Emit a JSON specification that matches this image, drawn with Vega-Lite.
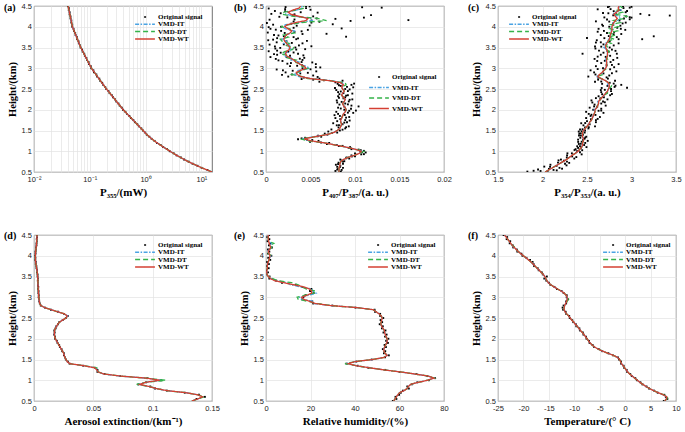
{
"$schema":"https://vega.github.io/schema/vega-lite/v6.json",
"background":"white",
"padding":{"left":3,"top":1,"right":3,"bottom":2},
"columns":3,
"spacing":{"row":63,"column":54},
"bounds":"flush",
"resolve":{"scale":{"color":"independent","strokeDash":"independent"}},
"config":{
"view":{"stroke":"#4d4d4d","strokeWidth":0.8},
"axis":{"domain":false,"ticks":false,"grid":true,"gridColor":"#e2e2e2","gridWidth":0.7,"labelFont":"Liberation Sans","labelFontSize":7.5,"labelColor":"#1a1a1a","labelPadding":3,"labelFlush":false,"labelOverlap":false,"titleFont":"Liberation Serif","titleFontWeight":"bold","titleFontSize":11,"titleColor":"#000","titlePadding":4},
"axisY":{"labelPadding":2.5,"titlePadding":3.5,"titleFontSize":10.5},
"legend":{"orient":"none","symbolType":"M-3.3,0H3.3","symbolSize":36,"symbolStrokeWidth":1.5,"labelFont":"Liberation Serif","labelFontWeight":"bold","labelFontSize":7,"labelColor":"#000","labelOffset":9,"rowPadding":0.3,"padding":0,"labelLimit":300}
},
"datasets":{
"a":[
{"h":0.5,"o":15.3,"i":15.5,"d":15.5,"w":15.5},{"h":0.55,"o":12.8,"i":12.6,"d":12.6,"w":12.6},{"h":0.6,"o":10.1,"i":10.2,"d":10.2,"w":10.2},{"h":0.65,"o":8.52,"i":8.41,"d":8.41,"w":8.41},{"h":0.7,"o":6.93,"i":7.0,"d":7.0,"w":7.0},{"h":0.75,"o":5.9,"i":5.83,"d":5.83,"w":5.83},{"h":0.8,"o":4.89,"i":4.95,"d":4.95,"w":4.95},{"h":0.85,"o":4.3,"i":4.24,"d":4.24,"w":4.24},{"h":0.9,"o":3.6,"i":3.64,"d":3.64,"w":3.64},{"h":0.95,"o":3.19,"i":3.15,"d":3.15,"w":3.15},
{"h":1.0,"o":2.71,"i":2.74,"d":2.74,"w":2.74},{"h":1.05,"o":2.42,"i":2.39,"d":2.39,"w":2.39},{"h":1.1,"o":2.07,"i":2.09,"d":2.09,"w":2.09},{"h":1.15,"o":1.86,"i":1.84,"d":1.84,"w":1.84},{"h":1.2,"o":1.6,"i":1.62,"d":1.62,"w":1.62},{"h":1.25,"o":1.45,"i":1.43,"d":1.43,"w":1.43},{"h":1.3,"o":1.28,"i":1.29,"d":1.29,"w":1.29},{"h":1.35,"o":1.17,"i":1.16,"d":1.16,"w":1.16},{"h":1.4,"o":1.05,"i":1.06,"d":1.06,"w":1.06},{"h":1.45,"o":0.985,"i":0.973,"d":0.973,"w":0.973},
{"h":1.5,"o":0.895,"i":0.902,"d":0.902,"w":0.902},{"h":1.55,"o":0.838,"i":0.83,"d":0.83,"w":0.83},{"h":1.6,"o":0.758,"i":0.764,"d":0.764,"w":0.764},{"h":1.65,"o":0.711,"i":0.705,"d":0.705,"w":0.705},{"h":1.7,"o":0.644,"i":0.649,"d":0.649,"w":0.649},{"h":1.75,"o":0.604,"i":0.598,"d":0.598,"w":0.598},{"h":1.8,"o":0.547,"i":0.551,"d":0.551,"w":0.551},{"h":1.85,"o":0.512,"i":0.507,"d":0.507,"w":0.507},{"h":1.9,"o":0.464,"i":0.468,"d":0.468,"w":0.468},{"h":1.95,"o":0.435,"i":0.431,"d":0.431,"w":0.431},
{"h":2.0,"o":0.394,"i":0.397,"d":0.397,"w":0.397},{"h":2.05,"o":0.375,"i":0.371,"d":0.371,"w":0.371},{"h":2.1,"o":0.343,"i":0.346,"d":0.346,"w":0.346},{"h":2.15,"o":0.326,"i":0.323,"d":0.323,"w":0.323},{"h":2.2,"o":0.298,"i":0.301,"d":0.301,"w":0.301},{"h":2.25,"o":0.284,"i":0.281,"d":0.281,"w":0.281},{"h":2.3,"o":0.26,"i":0.262,"d":0.262,"w":0.262},{"h":2.35,"o":0.248,"i":0.245,"d":0.245,"w":0.245},{"h":2.4,"o":0.226,"i":0.229,"d":0.229,"w":0.229},{"h":2.45,"o":0.216,"i":0.213,"d":0.213,"w":0.213},
{"h":2.5,"o":0.197,"i":0.199,"d":0.199,"w":0.199},{"h":2.55,"o":0.189,"i":0.187,"d":0.187,"w":0.187},{"h":2.6,"o":0.174,"i":0.176,"d":0.176,"w":0.176},{"h":2.65,"o":0.167,"i":0.165,"d":0.165,"w":0.165},{"h":2.7,"o":0.153,"i":0.155,"d":0.155,"w":0.155},{"h":2.75,"o":0.148,"i":0.146,"d":0.146,"w":0.146},{"h":2.8,"o":0.135,"i":0.137,"d":0.137,"w":0.137},{"h":2.85,"o":0.131,"i":0.129,"d":0.129,"w":0.129},{"h":2.9,"o":0.119,"i":0.121,"d":0.121,"w":0.121},{"h":2.95,"o":0.116,"i":0.114,"d":0.114,"w":0.114},
{"h":3.0,"o":0.106,"i":0.107,"d":0.107,"w":0.107},{"h":3.05,"o":0.104,"i":0.1025,"d":0.1025,"w":0.1025},{"h":3.1,"o":0.097,"i":0.0982,"d":0.0982,"w":0.0982},{"h":3.15,"o":0.095,"i":0.0938,"d":0.0938,"w":0.0938},{"h":3.2,"o":0.0888,"i":0.0897,"d":0.0897,"w":0.0897},{"h":3.25,"o":0.0868,"i":0.0859,"d":0.0859,"w":0.0859},{"h":3.3,"o":0.0815,"i":0.0822,"d":0.0822,"w":0.0822},{"h":3.35,"o":0.0795,"i":0.0787,"d":0.0787,"w":0.0787},{"h":3.4,"o":0.0745,"i":0.0752,"d":0.0752,"w":0.0752},{"h":3.45,"o":0.0728,"i":0.072,"d":0.072,"w":0.072},
{"h":3.5,"o":0.0683,"i":0.0689,"d":0.0689,"w":0.0689},{"h":3.55,"o":0.0671,"i":0.0665,"d":0.0665,"w":0.0665},{"h":3.6,"o":0.0637,"i":0.0643,"d":0.0643,"w":0.0643},{"h":3.65,"o":0.0627,"i":0.0621,"d":0.0621,"w":0.0621},{"h":3.7,"o":0.0595,"i":0.06,"d":0.06,"w":0.06},{"h":3.75,"o":0.0586,"i":0.058,"d":0.058,"w":0.058},{"h":3.8,"o":0.0556,"i":0.0561,"d":0.0561,"w":0.0561},{"h":3.85,"o":0.0547,"i":0.0542,"d":0.0542,"w":0.0542},{"h":3.9,"o":0.0519,"i":0.0524,"d":0.0524,"w":0.0524},{"h":3.95,"o":0.0511,"i":0.0506,"d":0.0506,"w":0.0506},
{"h":4.0,"o":0.0485,"i":0.0489,"d":0.0489,"w":0.0489},{"h":4.05,"o":0.0484,"i":0.048,"d":0.048,"w":0.048},{"h":4.1,"o":0.0467,"i":0.0471,"d":0.0471,"w":0.0471},{"h":4.15,"o":0.0467,"i":0.0463,"d":0.0463,"w":0.0463},{"h":4.2,"o":0.0451,"i":0.0455,"d":0.0455,"w":0.0455},{"h":4.25,"o":0.0451,"i":0.0447,"d":0.0447,"w":0.0447},{"h":4.3,"o":0.0435,"i":0.0439,"d":0.0439,"w":0.0439},{"h":4.35,"o":0.0435,"i":0.0431,"d":0.0431,"w":0.0431},{"h":4.4,"o":0.042,"i":0.0424,"d":0.0424,"w":0.0424},{"h":4.45,"o":0.042,"i":0.0416,"d":0.0416,"w":0.0416},{"h":4.5,"o":0.0405,"i":0.0408,"d":0.0408,"w":0.0408}
],
"b":[
{"h":0.5,"i":0.0082,"d":0.0082,"w":0.0082},{"h":0.55,"i":0.0082,"d":0.0082,"w":0.0082},{"h":0.6,"i":0.0082,"d":0.0082,"w":0.0082},{"h":0.65,"i":0.0083,"d":0.0083,"w":0.0083},{"h":0.7,"i":0.0083,"d":0.0083,"w":0.0083},{"h":0.75,"i":0.0084,"d":0.0084,"w":0.0084},{"h":0.8,"i":0.0087,"d":0.0087,"w":0.0087},{"h":0.85,"i":0.0092,"d":0.0092,"w":0.0092},{"h":0.9,"i":0.0099,"d":0.0099,"w":0.0099},{"h":0.95,"i":0.0105,"d":0.0105,"w":0.0105},
{"h":1.0,"i":0.0108,"d":0.011,"w":0.0107},{"h":1.05,"i":0.01,"d":0.01,"w":0.01},{"h":1.1,"i":0.009,"d":0.009,"w":0.009},{"h":1.15,"i":0.0078,"d":0.0078,"w":0.0078},{"h":1.2,"i":0.0066,"d":0.0066,"w":0.0066},{"h":1.25,"i":0.0049,"d":0.0047,"w":0.0051},{"h":1.3,"i":0.0041,"d":0.0039,"w":0.0043},{"h":1.35,"i":0.0054,"d":0.0056,"w":0.0055},{"h":1.4,"i":0.0068,"d":0.0068,"w":0.0068},{"h":1.45,"i":0.0076,"d":0.0076,"w":0.0076},
{"h":1.5,"i":0.008,"d":0.008,"w":0.008},{"h":1.55,"i":0.0083,"d":0.0083,"w":0.0083},{"h":1.6,"i":0.0084,"d":0.0084,"w":0.0084},{"h":1.65,"i":0.0085,"d":0.0085,"w":0.0085},{"h":1.7,"i":0.0084,"d":0.0084,"w":0.0084},{"h":1.75,"i":0.0084,"d":0.0084,"w":0.0084},{"h":1.8,"i":0.0085,"d":0.0085,"w":0.0085},{"h":1.85,"i":0.0086,"d":0.0086,"w":0.0086},{"h":1.9,"i":0.0087,"d":0.0087,"w":0.0087},{"h":1.95,"i":0.0089,"d":0.0089,"w":0.0089},
{"h":2.0,"i":0.009,"d":0.009,"w":0.009},{"h":2.05,"i":0.0089,"d":0.0089,"w":0.0089},{"h":2.1,"i":0.0087,"d":0.0087,"w":0.0087},{"h":2.15,"i":0.0086,"d":0.0086,"w":0.0086},{"h":2.2,"i":0.0088,"d":0.0088,"w":0.0088},{"h":2.25,"i":0.0089,"d":0.0089,"w":0.0089},{"h":2.3,"i":0.0087,"d":0.0087,"w":0.0087},{"h":2.35,"i":0.0085,"d":0.0085,"w":0.0085},{"h":2.4,"i":0.0086,"d":0.0086,"w":0.0086},{"h":2.45,"i":0.0088,"d":0.0088,"w":0.0088},
{"h":2.5,"i":0.0086,"d":0.0086,"w":0.0086},{"h":2.55,"i":0.0085,"d":0.0085,"w":0.0085},{"h":2.6,"i":0.0087,"d":0.009,"w":0.0087},{"h":2.65,"i":0.0086,"d":0.0089,"w":0.0084},{"h":2.7,"i":0.0074,"d":0.0071,"w":0.0072},{"h":2.75,"i":0.0052,"d":0.0047,"w":0.005},{"h":2.8,"i":0.0037,"d":0.0041,"w":0.0039},{"h":2.85,"i":0.0031,"d":0.0029,"w":0.0035},{"h":2.9,"i":0.0038,"d":0.0036,"w":0.0034},{"h":2.95,"i":0.0036,"d":0.0041,"w":0.0039},
{"h":3.0,"i":0.0049,"d":0.0047,"w":0.0045},{"h":3.05,"i":0.0045,"d":0.004,"w":0.0043},{"h":3.1,"i":0.0036,"d":0.0041,"w":0.0038},{"h":3.15,"i":0.0037,"d":0.0031,"w":0.0034},{"h":3.2,"i":0.0028,"d":0.0034,"w":0.0031},{"h":3.25,"i":0.003,"d":0.0024,"w":0.0027},{"h":3.3,"i":0.002,"d":0.0026,"w":0.0023},{"h":3.35,"i":0.0019,"d":0.0017,"w":0.0022},{"h":3.4,"i":0.0026,"d":0.0021,"w":0.0023},{"h":3.45,"i":0.0029,"d":0.003,"w":0.0026},
{"h":3.5,"i":0.0025,"d":0.0031,"w":0.0027},{"h":3.55,"i":0.0028,"d":0.0022,"w":0.0025},{"h":3.6,"i":0.002,"d":0.0026,"w":0.0023},{"h":3.65,"i":0.0023,"d":0.0018,"w":0.0021},{"h":3.7,"i":0.0017,"d":0.0016,"w":0.002},{"h":3.75,"i":0.0023,"d":0.0025,"w":0.0021},{"h":3.8,"i":0.0021,"d":0.002,"w":0.0023},{"h":3.85,"i":0.003,"d":0.0032,"w":0.0027},{"h":3.9,"i":0.0032,"d":0.0028,"w":0.0029},{"h":3.95,"i":0.0022,"d":0.0027,"w":0.0025},
{"h":4.0,"i":0.0018,"d":0.0017,"w":0.0021},{"h":4.05,"i":0.0022,"d":0.0026,"w":0.0024},{"h":4.1,"i":0.0037,"d":0.004,"w":0.0033},{"h":4.15,"i":0.0052,"d":0.0068,"w":0.0045},{"h":4.2,"i":0.0051,"d":0.0058,"w":0.0047},{"h":4.25,"i":0.0034,"d":0.0031,"w":0.0037},{"h":4.3,"i":0.0022,"d":0.0018,"w":0.0028},{"h":4.35,"i":0.0023,"d":0.002,"w":0.0025},{"h":4.4,"i":0.0034,"d":0.0033,"w":0.003},{"h":4.45,"i":0.0041,"d":0.0044,"w":0.0037},{"h":4.5,"i":0.004,"d":0.0042,"w":0.0039}
],
"bp":[
{"h":0.5,"v":0.00835},{"h":0.525,"v":0.0078},{"h":0.55,"v":0.0085},{"h":0.575,"v":0.0081},{"h":0.6,"v":0.00865},{"h":0.625,"v":0.008},{"h":0.65,"v":0.00835},{"h":0.675,"v":0.00785},{"h":0.7,"v":0.00865},{"h":0.725,"v":0.00815},{"h":0.75,"v":0.00865},{"h":0.775,"v":0.0085},{"h":0.8,"v":0.00835},{"h":0.825,"v":0.00935},{"h":0.85,"v":0.00905},{"h":0.875,"v":0.00965},{"h":0.9,"v":0.0096},{"h":0.925,"v":0.0107},{"h":0.95,"v":0.01},{"h":0.975,"v":0.0108},
{"h":1.0,"v":0.0106},{"h":1.025,"v":0.01065},{"h":1.05,"v":0.0096},{"h":1.075,"v":0.0095},{"h":1.1,"v":0.00945},{"h":1.125,"v":0.0082},{"h":1.15,"v":0.00795},{"h":1.175,"v":0.00685},{"h":1.2,"v":0.0071},{"h":1.225,"v":0.00495},{"h":1.25,"v":0.0059},{"h":1.275,"v":0.0046},{"h":1.3,"v":0.0045},{"h":1.325,"v":0.0044},{"h":1.35,"v":0.0062},{"h":1.375,"v":0.00585},{"h":1.4,"v":0.0069},{"h":1.425,"v":0.0066},{"h":1.45,"v":0.008},{"h":1.475,"v":0.007},
{"h":1.5,"v":0.0083},{"h":1.525,"v":0.00735},{"h":1.55,"v":0.0089},{"h":1.575,"v":0.00815},{"h":1.6,"v":0.0093},{"h":1.625,"v":0.00795},{"h":1.65,"v":0.0086},{"h":1.675,"v":0.00755},{"h":1.7,"v":0.0091},{"h":1.725,"v":0.008},{"h":1.75,"v":0.0089},{"h":1.775,"v":0.00835},{"h":1.8,"v":0.0078},{"h":1.825,"v":0.00935},{"h":1.85,"v":0.0083},{"h":1.875,"v":0.00885},{"h":1.9,"v":0.0081},{"h":1.925,"v":0.0098},{"h":1.95,"v":0.0079},{"h":1.975,"v":0.00935},
{"h":2.0,"v":0.0088},{"h":2.025,"v":0.00955},{"h":2.05,"v":0.0081},{"h":2.075,"v":0.0088},{"h":2.1,"v":0.0096},{"h":2.125,"v":0.00825},{"h":2.15,"v":0.0089},{"h":2.175,"v":0.008},{"h":2.2,"v":0.0093},{"h":2.225,"v":0.00795},{"h":2.25,"v":0.0097},{"h":2.275,"v":0.0087},{"h":2.3,"v":0.0089},{"h":2.325,"v":0.0081},{"h":2.35,"v":0.0092},{"h":2.375,"v":0.00825},{"h":2.4,"v":0.0087},{"h":2.425,"v":0.0081},{"h":2.45,"v":0.0092},{"h":2.475,"v":0.0079},
{"h":2.5,"v":0.0089},{"h":2.525,"v":0.00775},{"h":2.55,"v":0.0091},{"h":2.575,"v":0.0084},{"h":2.6,"v":0.0096},{"h":2.625,"v":0.00805},{"h":2.65,"v":0.0085},{"h":2.675,"v":0.006},{"h":2.7,"v":0.0086},{"h":2.725,"v":0.0053},{"h":2.75,"v":0.006},{"h":2.775,"v":0.00425},{"h":2.8,"v":0.0025},{"h":2.825,"v":0.0053},{"h":2.85,"v":0.0029},{"h":2.875,"v":0.00385},{"h":2.9,"v":0.0022},{"h":2.925,"v":0.00565},{"h":2.95,"v":0.0019},{"h":2.975,"v":0.005},
{"h":3.0,"v":0.0041},{"h":3.025,"v":0.0056},{"h":3.05,"v":0.0027},{"h":3.075,"v":0.00405},{"h":3.1,"v":0.0056},{"h":3.125,"v":0.0028},{"h":3.15,"v":0.004},{"h":3.175,"v":0.00185},{"h":3.2,"v":0.0041},{"h":3.225,"v":0.0011},{"h":3.25,"v":0.0043},{"h":3.275,"v":0.0023},{"h":3.3,"v":0.0027},{"h":3.325,"v":0.00125},{"h":3.35,"v":0.0036},{"h":3.375,"v":0.00165},{"h":3.4,"v":0.0025},{"h":3.425,"v":0.00125},{"h":3.45,"v":0.0034},{"h":3.475,"v":0.00105},
{"h":3.5,"v":0.0033},{"h":3.525,"v":0.001},{"h":3.55,"v":0.0037},{"h":3.575,"v":0.002},{"h":3.6,"v":0.0041},{"h":3.625,"v":0.0012},{"h":3.65,"v":0.0023},{"h":3.675,"v":0.00025},{"h":3.7,"v":0.0034},{"h":3.725,"v":0.00125},{"h":3.75,"v":0.0031},{"h":3.775,"v":0.002},{"h":3.8,"v":0.0009},{"h":3.825,"v":0.0041},{"h":3.85,"v":0.0021},{"h":3.875,"v":0.0032},{"h":3.9,"v":0.0017},{"h":3.925,"v":0.0047},{"h":3.95,"v":0.0005},{"h":3.975,"v":0.0031},
{"h":4.0,"v":0.0017},{"h":4.025,"v":0.00345},{"h":4.05,"v":0.0008},{"h":4.075,"v":0.00285},{"h":4.1,"v":0.0051},{"h":4.125,"v":0.0031},{"h":4.15,"v":0.0051},{"h":4.175,"v":0.0032},{"h":4.2,"v":0.0057},{"h":4.225,"v":0.0024},{"h":4.25,"v":0.0053},{"h":4.275,"v":0.00305},{"h":4.3,"v":0.0032},{"h":4.325,"v":0.00165},{"h":4.35,"v":0.0039},{"h":4.375,"v":0.00215},{"h":4.4,"v":0.0032},{"h":4.425,"v":0.00215},{"h":4.45,"v":0.0045},{"h":4.475,"v":0.0022},{"h":4.5,"v":0.0045},
{"h":2.71,"v":0.0065},{"h":2.74,"v":0.004},{"h":2.79,"v":0.0058},{"h":2.84,"v":0.0018},{"h":2.89,"v":0.0047},{"h":2.94,"v":0.003},{"h":2.97,"v":0.0012},{"h":3.02,"v":0.0061},{"h":3.06,"v":0.0035},{"h":3.11,"v":0.0024},{"h":3.14,"v":0.0052},{"h":3.19,"v":0.0014},{"h":3.23,"v":0.0038},{"h":3.27,"v":0.0005},{"h":3.31,"v":0.0042},{"h":3.34,"v":0.0009},{"h":3.38,"v":0.0031},{"h":3.41,"v":0.0003},{"h":3.46,"v":0.0044},{"h":3.49,"v":0.0016},
{"h":3.53,"v":0.0051},{"h":3.57,"v":0.0004},{"h":3.61,"v":0.0029},{"h":3.66,"v":0.0046},{"h":3.69,"v":0.0008},{"h":3.72,"v":0.0036},{"h":3.76,"v":0.009},{"h":3.79,"v":0.0014},{"h":3.83,"v":0.0068},{"h":3.86,"v":0.0002},{"h":3.89,"v":0.004},{"h":3.93,"v":0.0011},{"h":3.96,"v":0.0085},{"h":3.99,"v":0.0003},{"h":4.03,"v":0.0049},{"h":4.06,"v":0.0075},{"h":4.09,"v":0.0001},{"h":4.12,"v":0.006},{"h":4.14,"v":0.0095},{"h":4.16,"v":0.016},
{"h":4.17,"v":0.0004},{"h":4.19,"v":0.0078},{"h":4.22,"v":0.011},{"h":4.24,"v":0.0015},{"h":4.28,"v":0.0118},{"h":4.31,"v":0.0006},{"h":4.34,"v":0.0058},{"h":4.38,"v":0.001},{"h":4.41,"v":0.005},{"h":4.44,"v":0.0003},{"h":4.47,"v":0.0108},{"h":4.49,"v":0.0049},{"h":4.46,"v":0.013},
{"h":1.21,"v":0.0062},{"h":1.27,"v":0.0052},{"h":1.29,"v":0.0036},{"h":1.31,"v":0.004},{"h":1.36,"v":0.0058},{"h":1.44,"v":0.0074},{"h":1.52,"v":0.0086},{"h":1.58,"v":0.009},{"h":1.63,"v":0.0082},{"h":1.69,"v":0.0088},{"h":1.74,"v":0.0094},{"h":1.81,"v":0.009},{"h":1.87,"v":0.0077},{"h":1.93,"v":0.0092},{"h":1.98,"v":0.0101},{"h":2.03,"v":0.0084},{"h":2.08,"v":0.0104},{"h":2.13,"v":0.0092},{"h":2.19,"v":0.0085},{"h":2.24,"v":0.0094},
{"h":2.29,"v":0.0082},{"h":2.34,"v":0.009},{"h":2.39,"v":0.0097},{"h":2.44,"v":0.0084},{"h":2.49,"v":0.0094},{"h":2.54,"v":0.0098},{"h":2.59,"v":0.0082},{"h":2.63,"v":0.0099},{"h":2.66,"v":0.0078},
{"h":0.51,"v":0.0084},{"h":0.56,"v":0.008},{"h":0.62,"v":0.0083},{"h":0.69,"v":0.0081},{"h":0.76,"v":0.0088},{"h":0.83,"v":0.009},{"h":0.88,"v":0.01},{"h":0.93,"v":0.011},{"h":0.97,"v":0.0112},{"h":1.01,"v":0.011},{"h":1.04,"v":0.0104},{"h":1.08,"v":0.0093},{"h":1.13,"v":0.0086}
],
"c":[
{"h":0.5,"i":2.03,"d":2.03,"w":2.03},{"h":0.55,"i":2.07,"d":2.07,"w":2.07},{"h":0.6,"i":2.11,"d":2.11,"w":2.11},{"h":0.65,"i":2.15,"d":2.15,"w":2.15},{"h":0.7,"i":2.19,"d":2.19,"w":2.19},{"h":0.75,"i":2.23,"d":2.23,"w":2.23},{"h":0.8,"i":2.27,"d":2.27,"w":2.27},{"h":0.85,"i":2.3,"d":2.3,"w":2.3},{"h":0.9,"i":2.33,"d":2.33,"w":2.33},{"h":0.95,"i":2.37,"d":2.37,"w":2.37},
{"h":1.0,"i":2.4,"d":2.4,"w":2.4},{"h":1.05,"i":2.42,"d":2.42,"w":2.42},{"h":1.1,"i":2.44,"d":2.44,"w":2.44},{"h":1.15,"i":2.45,"d":2.45,"w":2.45},{"h":1.2,"i":2.45,"d":2.45,"w":2.45},{"h":1.25,"i":2.46,"d":2.46,"w":2.46},{"h":1.3,"i":2.46,"d":2.46,"w":2.46},{"h":1.35,"i":2.45,"d":2.45,"w":2.45},{"h":1.4,"i":2.45,"d":2.45,"w":2.45},{"h":1.45,"i":2.45,"d":2.45,"w":2.45},
{"h":1.5,"i":2.46,"d":2.46,"w":2.46},{"h":1.55,"i":2.48,"d":2.48,"w":2.48},{"h":1.6,"i":2.5,"d":2.5,"w":2.5},{"h":1.65,"i":2.52,"d":2.52,"w":2.52},{"h":1.7,"i":2.53,"d":2.53,"w":2.53},{"h":1.75,"i":2.55,"d":2.55,"w":2.55},{"h":1.8,"i":2.56,"d":2.56,"w":2.56},{"h":1.85,"i":2.57,"d":2.57,"w":2.57},{"h":1.9,"i":2.58,"d":2.58,"w":2.58},{"h":1.95,"i":2.59,"d":2.59,"w":2.59},
{"h":2.0,"i":2.58,"d":2.59,"w":2.59},{"h":2.05,"i":2.61,"d":2.61,"w":2.61},{"h":2.1,"i":2.62,"d":2.62,"w":2.62},{"h":2.15,"i":2.63,"d":2.63,"w":2.63},{"h":2.2,"i":2.62,"d":2.64,"w":2.63},{"h":2.25,"i":2.65,"d":2.65,"w":2.65},{"h":2.3,"i":2.67,"d":2.67,"w":2.67},{"h":2.35,"i":2.69,"d":2.69,"w":2.69},{"h":2.4,"i":2.71,"d":2.73,"w":2.71},{"h":2.45,"i":2.73,"d":2.73,"w":2.73},
{"h":2.5,"i":2.74,"d":2.74,"w":2.74},{"h":2.55,"i":2.76,"d":2.77,"w":2.75},{"h":2.6,"i":2.73,"d":2.78,"w":2.75},{"h":2.65,"i":2.74,"d":2.74,"w":2.74},{"h":2.7,"i":2.71,"d":2.71,"w":2.71},{"h":2.75,"i":2.66,"d":2.66,"w":2.66},{"h":2.8,"i":2.6,"d":2.61,"w":2.62},{"h":2.85,"i":2.66,"d":2.68,"w":2.64},{"h":2.9,"i":2.67,"d":2.67,"w":2.67},{"h":2.95,"i":2.69,"d":2.69,"w":2.69},
{"h":3.0,"i":2.7,"d":2.73,"w":2.71},{"h":3.05,"i":2.72,"d":2.72,"w":2.72},{"h":3.1,"i":2.72,"d":2.72,"w":2.72},{"h":3.15,"i":2.72,"d":2.72,"w":2.72},{"h":3.2,"i":2.7,"d":2.74,"w":2.72},{"h":3.25,"i":2.72,"d":2.72,"w":2.72},{"h":3.3,"i":2.73,"d":2.73,"w":2.73},{"h":3.35,"i":2.73,"d":2.73,"w":2.73},{"h":3.4,"i":2.72,"d":2.75,"w":2.73},{"h":3.45,"i":2.72,"d":2.72,"w":2.72},
{"h":3.5,"i":2.69,"d":2.74,"w":2.71},{"h":3.55,"i":2.71,"d":2.71,"w":2.71},{"h":3.6,"i":2.7,"d":2.77,"w":2.72},{"h":3.65,"i":2.75,"d":2.71,"w":2.74},{"h":3.7,"i":2.74,"d":2.81,"w":2.75},{"h":3.75,"i":2.77,"d":2.74,"w":2.76},{"h":3.8,"i":2.75,"d":2.82,"w":2.76},{"h":3.85,"i":2.78,"d":2.75,"w":2.77},{"h":3.9,"i":2.77,"d":2.84,"w":2.78},{"h":3.95,"i":2.79,"d":2.76,"w":2.78},
{"h":4.0,"i":2.77,"d":2.85,"w":2.78},{"h":4.05,"i":2.8,"d":2.77,"w":2.79},{"h":4.1,"i":2.79,"d":2.87,"w":2.8},{"h":4.15,"i":2.84,"d":2.8,"w":2.82},{"h":4.2,"i":2.88,"d":2.92,"w":2.84},{"h":4.25,"i":2.86,"d":2.95,"w":2.82},{"h":4.3,"i":2.79,"d":2.82,"w":2.8},{"h":4.35,"i":2.81,"d":2.9,"w":2.83},{"h":4.4,"i":2.88,"d":2.84,"w":2.86},{"h":4.45,"i":2.86,"d":2.9,"w":2.85},{"h":4.5,"i":2.86,"d":2.87,"w":2.86}
],
"cp":[
{"h":0.5,"v":2.057},{"h":0.525,"v":1.978},{"h":0.55,"v":2.124},{"h":0.575,"v":2.072},{"h":0.6,"v":2.191},{"h":0.625,"v":2.085},{"h":0.65,"v":2.159},{"h":0.675,"v":2.089},{"h":0.7,"v":2.253},{"h":0.725,"v":2.174},{"h":0.75,"v":2.275},{"h":0.775,"v":2.241},{"h":0.8,"v":2.207},{"h":0.825,"v":2.357},{"h":0.85,"v":2.273},{"h":0.875,"v":2.333},{"h":0.9,"v":2.276},{"h":0.925,"v":2.44},{"h":0.95,"v":2.28},{"h":0.975,"v":2.421},
{"h":1.0,"v":2.388},{"h":1.025,"v":2.446},{"h":1.05,"v":2.372},{"h":1.075,"v":2.43},{"h":1.1,"v":2.494},{"h":1.125,"v":2.421},{"h":1.15,"v":2.468},{"h":1.175,"v":2.408},{"h":1.2,"v":2.48},{"h":1.225,"v":2.401},{"h":1.25,"v":2.508},{"h":1.275,"v":2.454},{"h":1.3,"v":2.472},{"h":1.325,"v":2.425},{"h":1.35,"v":2.492},{"h":1.375,"v":2.432},{"h":1.4,"v":2.456},{"h":1.425,"v":2.414},{"h":1.45,"v":2.474},{"h":1.475,"v":2.407},
{"h":1.5,"v":2.478},{"h":1.525,"v":2.422},{"h":1.55,"v":2.516},{"h":1.575,"v":2.478},{"h":1.6,"v":2.59},{"h":1.625,"v":2.46},{"h":1.65,"v":2.53},{"h":1.675,"v":2.435},{"h":1.7,"v":2.6},{"h":1.725,"v":2.5},{"h":1.75,"v":2.6},{"h":1.775,"v":2.545},{"h":1.8,"v":2.49},{"h":1.825,"v":2.645},{"h":1.85,"v":2.54},{"h":1.875,"v":2.595},{"h":1.9,"v":2.52},{"h":1.925,"v":2.685},{"h":1.95,"v":2.49},{"h":1.975,"v":2.63},
{"h":2.0,"v":2.57},{"h":2.025,"v":2.66},{"h":2.05,"v":2.53},{"h":2.075,"v":2.615},{"h":2.1,"v":2.71},{"h":2.125,"v":2.585},{"h":2.15,"v":2.66},{"h":2.175,"v":2.56},{"h":2.2,"v":2.68},{"h":2.225,"v":2.55},{"h":2.25,"v":2.73},{"h":2.275,"v":2.65},{"h":2.3,"v":2.69},{"h":2.325,"v":2.63},{"h":2.35,"v":2.76},{"h":2.375,"v":2.67},{"h":2.4,"v":2.72},{"h":2.425,"v":2.66},{"h":2.45,"v":2.77},{"h":2.475,"v":2.655},
{"h":2.5,"v":2.77},{"h":2.525,"v":2.665},{"h":2.55,"v":2.81},{"h":2.575,"v":2.73},{"h":2.6,"v":2.885},{"h":2.625,"v":2.67},{"h":2.65,"v":2.755},{"h":2.675,"v":2.59},{"h":2.7,"v":2.815},{"h":2.725,"v":2.625},{"h":2.75,"v":2.735},{"h":2.775,"v":2.625},{"h":2.8,"v":2.515},{"h":2.825,"v":2.75},{"h":2.85,"v":2.595},{"h":2.875,"v":2.685},{"h":2.9,"v":2.58},{"h":2.925,"v":2.83},{"h":2.95,"v":2.54},{"h":2.975,"v":2.76},
{"h":3.0,"v":2.68},{"h":3.025,"v":2.805},{"h":3.05,"v":2.6},{"h":3.075,"v":2.72},{"h":3.1,"v":2.855},{"h":3.125,"v":2.66},{"h":3.15,"v":2.765},{"h":3.175,"v":2.615},{"h":3.2,"v":2.795},{"h":3.225,"v":2.585},{"h":3.25,"v":2.84},{"h":3.275,"v":2.71},{"h":3.3,"v":2.76},{"h":3.325,"v":2.655},{"h":3.35,"v":2.835},{"h":3.375,"v":2.685},{"h":3.4,"v":2.745},{"h":3.425,"v":2.635},{"h":3.45,"v":2.78},{"h":3.475,"v":2.595},
{"h":3.5,"v":2.755},{"h":3.525,"v":2.59},{"h":3.55,"v":2.8},{"h":3.575,"v":2.685},{"h":3.6,"v":2.855},{"h":3.625,"v":2.655},{"h":3.65,"v":2.755},{"h":3.675,"v":2.61},{"h":3.7,"v":2.855},{"h":3.725,"v":2.695},{"h":3.75,"v":2.835},{"h":3.775,"v":2.745},{"h":3.8,"v":2.655},{"h":3.825,"v":2.885},{"h":3.85,"v":2.725},{"h":3.875,"v":2.805},{"h":3.9,"v":2.69},{"h":3.925,"v":2.93},{"h":3.95,"v":2.63},{"h":3.975,"v":2.84},
{"h":4.0,"v":2.75},{"h":4.025,"v":2.875},{"h":4.05,"v":2.67},{"h":4.075,"v":2.795},{"h":4.1,"v":2.935},{"h":4.125,"v":2.75},{"h":4.15,"v":2.865},{"h":4.175,"v":2.725},{"h":4.2,"v":2.915},{"h":4.225,"v":2.695},{"h":4.25,"v":2.94},{"h":4.275,"v":2.795},{"h":4.3,"v":2.83},{"h":4.325,"v":2.74},{"h":4.35,"v":2.935},{"h":4.375,"v":2.8},{"h":4.4,"v":2.875},{"h":4.425,"v":2.765},{"h":4.45,"v":2.91},{"h":4.475,"v":2.735},{"h":4.5,"v":2.905},
{"h":0.51,"v":1.83},{"h":0.53,"v":1.9},{"h":0.56,"v":1.95},{"h":0.54,"v":2.16},{"h":0.58,"v":2.22},{"h":0.63,"v":2.02},{"h":0.66,"v":2.27},{"h":0.72,"v":2.3},{"h":0.78,"v":2.18},{"h":0.86,"v":2.38},{"h":0.95,"v":2.33},{"h":1.03,"v":2.36},{"h":1.08,"v":2.4},{"h":1.12,"v":2.39},{"h":1.18,"v":2.43},{"h":1.23,"v":2.44},{"h":1.28,"v":2.4},{"h":1.33,"v":2.48},{"h":1.38,"v":2.41},{"h":1.43,"v":2.43},
{"h":1.48,"v":2.44},{"h":1.53,"v":2.45},{"h":1.58,"v":2.52},{"h":1.68,"v":2.48},{"h":1.78,"v":2.62},{"h":1.88,"v":2.55},{"h":1.98,"v":2.66},{"h":2.08,"v":2.58},{"h":2.18,"v":2.7},{"h":2.28,"v":2.6},{"h":2.38,"v":2.78},{"h":2.48,"v":2.7},{"h":2.53,"v":2.95},{"h":2.58,"v":2.82},{"h":2.63,"v":2.8},{"h":2.68,"v":2.66},{"h":2.78,"v":2.72},{"h":2.88,"v":2.78},{"h":2.98,"v":2.62},{"h":3.08,"v":2.78},
{"h":3.18,"v":2.7},{"h":3.28,"v":2.62},{"h":3.35,"v":2.45},{"h":3.42,"v":2.82},{"h":3.52,"v":2.66},{"h":3.62,"v":2.6},{"h":3.7,"v":3.12},{"h":3.73,"v":2.5},{"h":3.77,"v":3.25},{"h":3.82,"v":2.8},{"h":3.88,"v":2.62},{"h":3.95,"v":2.88},{"h":4.02,"v":2.68},{"h":4.08,"v":2.9},{"h":4.13,"v":2.6},{"h":4.18,"v":2.98},{"h":4.22,"v":3.0},{"h":4.27,"v":3.43},{"h":4.28,"v":3.2},{"h":4.31,"v":3.1},
{"h":4.33,"v":2.68},{"h":4.38,"v":2.95},{"h":4.42,"v":2.62},{"h":4.46,"v":2.98},{"h":4.49,"v":2.75},{"h":4.48,"v":3.0},{"h":4.23,"v":2.98}
],
"d":[
{"h":0.5,"o":0.135,"i":0.133,"d":0.133,"w":0.133},{"h":0.55,"o":0.137,"i":0.138,"d":0.138,"w":0.138},{"h":0.6,"o":0.144,"i":0.142,"d":0.1435,"w":0.142},{"h":0.65,"o":0.139,"i":0.138,"d":0.138,"w":0.138},{"h":0.7,"o":0.127,"i":0.128,"d":0.128,"w":0.128},{"h":0.75,"o":0.112,"i":0.112,"d":0.112,"w":0.112},{"h":0.8,"o":0.102,"i":0.103,"d":0.103,"w":0.103},{"h":0.85,"o":0.098,"i":0.097,"d":0.097,"w":0.097},{"h":0.9,"o":0.088,"i":0.0875,"d":0.0865,"w":0.089},{"h":0.95,"o":0.0945,"i":0.094,"d":0.094,"w":0.094},
{"h":1.0,"o":0.107,"i":0.108,"d":0.111,"w":0.106},{"h":1.05,"o":0.0955,"i":0.095,"d":0.095,"w":0.095},{"h":1.1,"o":0.0725,"i":0.073,"d":0.073,"w":0.073},{"h":1.15,"o":0.0595,"i":0.059,"d":0.059,"w":0.059},{"h":1.2,"o":0.0535,"i":0.054,"d":0.054,"w":0.054},{"h":1.25,"o":0.0535,"i":0.054,"d":0.0545,"w":0.053},{"h":1.3,"o":0.0515,"i":0.052,"d":0.053,"w":0.051},{"h":1.35,"o":0.0415,"i":0.042,"d":0.042,"w":0.042},{"h":1.4,"o":0.03,"i":0.03,"d":0.03,"w":0.03},{"h":1.45,"o":0.0285,"i":0.028,"d":0.028,"w":0.028},
{"h":1.5,"o":0.0268,"i":0.027,"d":0.027,"w":0.027},{"h":1.55,"o":0.0262,"i":0.026,"d":0.026,"w":0.026},{"h":1.6,"o":0.0253,"i":0.0255,"d":0.0255,"w":0.0255},{"h":1.65,"o":0.0252,"i":0.025,"d":0.025,"w":0.025},{"h":1.7,"o":0.0238,"i":0.024,"d":0.024,"w":0.024},{"h":1.75,"o":0.0232,"i":0.023,"d":0.023,"w":0.023},{"h":1.8,"o":0.0218,"i":0.022,"d":0.022,"w":0.022},{"h":1.85,"o":0.0212,"i":0.021,"d":0.021,"w":0.021},{"h":1.9,"o":0.0198,"i":0.02,"d":0.02,"w":0.02},{"h":1.95,"o":0.0192,"i":0.019,"d":0.019,"w":0.019},
{"h":2.0,"o":0.0178,"i":0.018,"d":0.018,"w":0.018},{"h":2.05,"o":0.0177,"i":0.0175,"d":0.0175,"w":0.0175},{"h":2.1,"o":0.017,"i":0.0172,"d":0.0172,"w":0.0172},{"h":2.15,"o":0.0174,"i":0.0172,"d":0.0172,"w":0.0172},{"h":2.2,"o":0.0171,"i":0.0173,"d":0.0173,"w":0.0173},{"h":2.25,"o":0.0182,"i":0.018,"d":0.018,"w":0.018},{"h":2.3,"o":0.0188,"i":0.019,"d":0.019,"w":0.019},{"h":2.35,"o":0.0202,"i":0.02,"d":0.02,"w":0.02},{"h":2.4,"o":0.0213,"i":0.0215,"d":0.0215,"w":0.0215},{"h":2.45,"o":0.0242,"i":0.024,"d":0.024,"w":0.024},
{"h":2.5,"o":0.0268,"i":0.027,"d":0.027,"w":0.027},{"h":2.55,"o":0.0285,"i":0.0285,"d":0.028,"w":0.028},{"h":2.6,"o":0.0253,"i":0.0255,"d":0.0255,"w":0.0255},{"h":2.65,"o":0.0202,"i":0.02,"d":0.02,"w":0.02},{"h":2.7,"o":0.0143,"i":0.0145,"d":0.0145,"w":0.0145},{"h":2.75,"o":0.0092,"i":0.009,"d":0.009,"w":0.009},{"h":2.8,"o":0.0057,"i":0.0058,"d":0.0058,"w":0.0058},{"h":2.85,"o":0.0049,"i":0.0048,"d":0.0048,"w":0.0048},{"h":2.9,"o":0.0044,"i":0.0045,"d":0.0045,"w":0.0045},{"h":2.95,"o":0.0043,"i":0.0042,"d":0.0042,"w":0.0042},
{"h":3.0,"o":0.0039,"i":0.004,"d":0.004,"w":0.004},{"h":3.05,"o":0.004,"i":0.0039,"d":0.0039,"w":0.0039},{"h":3.1,"o":0.0037,"i":0.0038,"d":0.0038,"w":0.0038},{"h":3.15,"o":0.0038,"i":0.0037,"d":0.0037,"w":0.0037},{"h":3.2,"o":0.0035,"i":0.0036,"d":0.0036,"w":0.0036},{"h":3.25,"o":0.0036,"i":0.0035,"d":0.0035,"w":0.0035},{"h":3.3,"o":0.0033,"i":0.0034,"d":0.0034,"w":0.0034},{"h":3.35,"o":0.0034,"i":0.0033,"d":0.0033,"w":0.0033},{"h":3.4,"o":0.0032,"i":0.0033,"d":0.0033,"w":0.0033},{"h":3.45,"o":0.0033,"i":0.0032,"d":0.0032,"w":0.0032},
{"h":3.5,"o":0.003,"i":0.0031,"d":0.0031,"w":0.0031},{"h":3.55,"o":0.003,"i":0.0029,"d":0.0029,"w":0.0029},{"h":3.6,"o":0.0026,"i":0.0027,"d":0.0027,"w":0.0027},{"h":3.65,"o":0.0026,"i":0.0025,"d":0.0025,"w":0.0025},{"h":3.7,"o":0.0021,"i":0.0022,"d":0.0022,"w":0.0022},{"h":3.75,"o":0.002,"i":0.0019,"d":0.0019,"w":0.0019},{"h":3.8,"o":0.0015,"i":0.0016,"d":0.0016,"w":0.0016},{"h":3.85,"o":0.0015,"i":0.0014,"d":0.0014,"w":0.0014},{"h":3.9,"o":0.0011,"i":0.0012,"d":0.0012,"w":0.0012},{"h":3.95,"o":0.0012,"i":0.0011,"d":0.0011,"w":0.0011},
{"h":4.0,"o":0.001,"i":0.0011,"d":0.0011,"w":0.0011},{"h":4.05,"o":0.0013,"i":0.0012,"d":0.0012,"w":0.0012},{"h":4.1,"o":0.0013,"i":0.0014,"d":0.0014,"w":0.0014},{"h":4.15,"o":0.0017,"i":0.0016,"d":0.0016,"w":0.0016},{"h":4.2,"o":0.0017,"i":0.0018,"d":0.0018,"w":0.0018},{"h":4.25,"o":0.0021,"i":0.002,"d":0.002,"w":0.002},{"h":4.3,"o":0.0021,"i":0.0022,"d":0.0022,"w":0.0022},{"h":4.35,"o":0.0024,"i":0.0023,"d":0.0023,"w":0.0023},{"h":4.4,"o":0.0023,"i":0.0024,"d":0.0024,"w":0.0024},{"h":4.45,"o":0.0026,"i":0.0025,"d":0.0025,"w":0.0025},{"h":4.5,"o":0.0024,"i":0.0025,"d":0.0025,"w":0.0025}
],
"e":[
{"h":0.5,"o":57.0,"i":57.4,"d":57.4,"w":57.4},{"h":0.55,"o":58.6,"i":58.0,"d":58.0,"w":58.0},{"h":0.6,"o":58.2,"i":58.6,"d":58.6,"w":58.6},{"h":0.65,"o":59.8,"i":59.2,"d":59.2,"w":59.2},{"h":0.7,"o":60.6,"i":60.0,"d":60.0,"w":60.0},{"h":0.75,"o":61.5,"i":62.0,"d":62.0,"w":62.0},{"h":0.8,"o":64.2,"i":63.5,"d":63.5,"w":63.5},{"h":0.85,"o":63.5,"i":64.0,"d":64.0,"w":64.0},{"h":0.9,"o":65.6,"i":65.0,"d":65.0,"w":65.0},{"h":0.95,"o":68.0,"i":68.5,"d":68.5,"w":68.5},
{"h":1.0,"o":73.2,"i":72.5,"d":72.5,"w":72.5},{"h":1.05,"o":76.0,"i":75.5,"d":75.7,"w":75.5},{"h":1.1,"o":72.5,"i":73.0,"d":73.0,"w":73.0},{"h":1.15,"o":67.6,"i":67.0,"d":67.0,"w":67.0},{"h":1.2,"o":60.0,"i":60.5,"d":60.5,"w":60.5},{"h":1.25,"o":53.6,"i":53.0,"d":53.0,"w":53.0},{"h":1.3,"o":46.0,"i":46.5,"d":46.5,"w":46.5},{"h":1.35,"o":41.2,"i":40.5,"d":40.5,"w":40.5},{"h":1.4,"o":36.2,"i":36.0,"d":35.5,"w":37.0},{"h":1.45,"o":40.6,"i":40.0,"d":40.0,"w":40.0},
{"h":1.5,"o":47.5,"i":48.0,"d":48.0,"w":48.0},{"h":1.55,"o":53.5,"i":53.0,"d":53.0,"w":53.0},{"h":1.6,"o":55.2,"i":54.5,"d":54.5,"w":54.5},{"h":1.65,"o":53.0,"i":53.5,"d":53.5,"w":53.5},{"h":1.7,"o":53.6,"i":53.0,"d":53.0,"w":53.0},{"h":1.75,"o":52.5,"i":53.0,"d":53.0,"w":53.0},{"h":1.8,"o":53.9,"i":53.3,"d":53.3,"w":53.3},{"h":1.85,"o":53.3,"i":53.8,"d":53.8,"w":53.8},{"h":1.9,"o":54.8,"i":54.2,"d":54.2,"w":54.2},{"h":1.95,"o":54.0,"i":54.5,"d":54.5,"w":54.5},
{"h":2.0,"o":55.0,"i":54.4,"d":54.4,"w":54.4},{"h":2.05,"o":53.5,"i":54.0,"d":54.0,"w":54.0},{"h":2.1,"o":54.2,"i":53.6,"d":53.6,"w":53.6},{"h":2.15,"o":52.8,"i":53.3,"d":53.3,"w":53.3},{"h":2.2,"o":53.7,"i":53.2,"d":53.2,"w":53.2},{"h":2.25,"o":52.1,"i":52.6,"d":52.6,"w":52.6},{"h":2.3,"o":52.5,"i":52.0,"d":52.0,"w":52.0},{"h":2.35,"o":51.1,"i":51.6,"d":51.6,"w":51.6},{"h":2.4,"o":52.2,"i":51.7,"d":51.7,"w":51.7},{"h":2.45,"o":51.5,"i":52.0,"d":52.0,"w":52.0},
{"h":2.5,"o":52.7,"i":52.2,"d":52.2,"w":52.2},{"h":2.55,"o":51.3,"i":51.8,"d":51.8,"w":51.8},{"h":2.6,"o":51.3,"i":50.8,"d":50.8,"w":50.8},{"h":2.65,"o":49.0,"i":49.5,"d":49.5,"w":49.5},{"h":2.7,"o":48.8,"i":48.2,"d":48.2,"w":48.2},{"h":2.75,"o":40.2,"i":41.0,"d":41.0,"w":41.0},{"h":2.8,"o":29.8,"i":29.0,"d":29.0,"w":29.0},{"h":2.85,"o":21.2,"i":21.0,"d":23.0,"w":22.0},{"h":2.9,"o":20.8,"i":21.5,"d":19.0,"w":19.8},{"h":2.95,"o":16.2,"i":16.0,"d":14.5,"w":17.0},
{"h":3.0,"o":16.8,"i":15.0,"d":14.0,"w":16.0},{"h":3.05,"o":17.8,"i":19.5,"d":17.5,"w":18.5},{"h":3.1,"o":21.4,"i":22.5,"d":21.5,"w":20.5},{"h":3.15,"o":19.8,"i":21.0,"d":22.5,"w":20.5},{"h":3.2,"o":20.4,"i":20.5,"d":18.0,"w":19.5},{"h":3.25,"o":16.3,"i":15.5,"d":16.0,"w":17.0},{"h":3.3,"o":13.3,"i":11.0,"d":14.5,"w":12.5},{"h":3.35,"o":7.2,"i":9.5,"d":11.5,"w":8.0},{"h":3.4,"o":4.6,"i":4.5,"d":5.0,"w":3.8},{"h":3.45,"o":1.5,"i":2.5,"d":3.0,"w":2.0},
{"h":3.5,"o":1.6,"i":1.0,"d":1.0,"w":1.0},{"h":3.55,"o":0.2,"i":0.5,"d":0.5,"w":0.5},{"h":3.6,"o":0.9,"i":0.3,"d":0.3,"w":0.3},{"h":3.65,"o":0.1,"i":0.4,"d":0.4,"w":0.4},{"h":3.7,"o":1.2,"i":0.6,"d":0.6,"w":0.6},{"h":3.75,"o":0.2,"i":0.6,"d":0.6,"w":0.6},{"h":3.8,"o":1.3,"i":0.7,"d":0.7,"w":0.7},{"h":3.85,"o":0.5,"i":1.0,"d":1.0,"w":1.0},{"h":3.9,"o":1.9,"i":1.3,"d":1.3,"w":1.3},{"h":3.95,"o":1.0,"i":1.6,"d":1.6,"w":1.6},
{"h":4.0,"o":2.4,"i":2.2,"d":2.5,"w":1.8},{"h":4.05,"o":0.9,"i":1.2,"d":1.0,"w":1.4},{"h":4.1,"o":1.5,"i":1.0,"d":1.0,"w":1.0},{"h":4.15,"o":0.9,"i":1.5,"d":1.5,"w":1.5},{"h":4.2,"o":2.7,"i":2.5,"d":2.6,"w":2.1},{"h":4.25,"o":1.3,"i":1.8,"d":1.8,"w":1.8},{"h":4.3,"o":2.0,"i":2.5,"d":3.5,"w":1.4},{"h":4.35,"o":0.7,"i":1.2,"d":1.2,"w":1.2},{"h":4.4,"o":1.5,"i":1.0,"d":1.0,"w":1.0},{"h":4.45,"o":0.6,"i":1.0,"d":1.0,"w":1.0},{"h":4.5,"o":1.4,"i":1.0,"d":1.0,"w":1.0}
],
"f":[
{"h":0.5,"o":7.6,"i":7.8,"d":7.8,"w":7.8},{"h":0.55,"o":8.3,"i":8.1,"d":8.2,"w":8.1},{"h":0.6,"o":8.0,"i":8.2,"d":8.4,"w":8.2},{"h":0.65,"o":7.7,"i":7.5,"d":7.6,"w":7.5},{"h":0.7,"o":6.4,"i":6.5,"d":6.5,"w":6.5},{"h":0.75,"o":5.7,"i":5.6,"d":5.6,"w":5.6},{"h":0.8,"o":4.7,"i":4.8,"d":4.8,"w":4.8},{"h":0.85,"o":4.2,"i":4.1,"d":4.1,"w":4.1},{"h":0.9,"o":3.4,"i":3.5,"d":3.5,"w":3.5},{"h":0.95,"o":3.0,"i":2.9,"d":2.9,"w":2.9},
{"h":1.0,"o":2.3,"i":2.4,"d":2.4,"w":2.4},{"h":1.05,"o":2.0,"i":1.9,"d":1.9,"w":1.9},{"h":1.1,"o":1.3,"i":1.4,"d":1.4,"w":1.4},{"h":1.15,"o":1.0,"i":0.9,"d":0.9,"w":0.9},{"h":1.2,"o":0.4,"i":0.5,"d":0.5,"w":0.5},{"h":1.25,"o":0.3,"i":0.2,"d":0.2,"w":0.2},{"h":1.3,"o":-0.2,"i":-0.1,"d":-0.1,"w":-0.1},{"h":1.35,"o":-0.3,"i":-0.4,"d":-0.4,"w":-0.4},{"h":1.4,"o":-0.8,"i":-0.7,"d":-0.7,"w":-0.7},{"h":1.45,"o":-0.8,"i":-0.9,"d":-0.9,"w":-0.9},
{"h":1.5,"o":-1.2,"i":-1.1,"d":-1.1,"w":-1.1},{"h":1.55,"o":-1.4,"i":-1.5,"d":-1.5,"w":-1.5},{"h":1.6,"o":-2.4,"i":-2.3,"d":-2.3,"w":-2.3},{"h":1.65,"o":-3.3,"i":-3.4,"d":-3.4,"w":-3.4},{"h":1.7,"o":-4.5,"i":-4.4,"d":-4.4,"w":-4.4},{"h":1.75,"o":-5.2,"i":-5.3,"d":-5.3,"w":-5.3},{"h":1.8,"o":-6.1,"i":-6.0,"d":-6.0,"w":-6.0},{"h":1.85,"o":-6.4,"i":-6.5,"d":-6.5,"w":-6.5},{"h":1.9,"o":-7.0,"i":-6.9,"d":-6.9,"w":-6.9},{"h":1.95,"o":-7.1,"i":-7.2,"d":-7.2,"w":-7.2},
{"h":2.0,"o":-7.6,"i":-7.5,"d":-7.5,"w":-7.5},{"h":2.05,"o":-7.7,"i":-7.8,"d":-7.8,"w":-7.8},{"h":2.1,"o":-8.2,"i":-8.1,"d":-8.1,"w":-8.1},{"h":2.15,"o":-8.3,"i":-8.4,"d":-8.4,"w":-8.4},{"h":2.2,"o":-8.9,"i":-8.8,"d":-8.8,"w":-8.8},{"h":2.25,"o":-9.0,"i":-9.1,"d":-9.1,"w":-9.1},{"h":2.3,"o":-9.6,"i":-9.4,"d":-9.4,"w":-9.4},{"h":2.35,"o":-9.7,"i":-9.8,"d":-9.8,"w":-9.8},{"h":2.4,"o":-10.2,"i":-10.1,"d":-10.1,"w":-10.1},{"h":2.45,"o":-10.4,"i":-10.5,"d":-10.5,"w":-10.5},
{"h":2.5,"o":-10.9,"i":-10.8,"d":-10.8,"w":-10.8},{"h":2.55,"o":-11.0,"i":-11.1,"d":-11.1,"w":-11.1},{"h":2.6,"o":-11.6,"i":-11.5,"d":-11.5,"w":-11.5},{"h":2.65,"o":-11.7,"i":-11.8,"d":-11.8,"w":-11.8},{"h":2.7,"o":-12.2,"i":-12.0,"d":-12.0,"w":-12.0},{"h":2.75,"o":-12.3,"i":-12.0,"d":-12.0,"w":-12.0},{"h":2.8,"o":-12.1,"i":-11.9,"d":-11.9,"w":-11.9},{"h":2.85,"o":-11.6,"i":-11.7,"d":-11.6,"w":-11.7},{"h":2.9,"o":-11.6,"i":-11.5,"d":-11.4,"w":-11.5},{"h":2.95,"o":-11.2,"i":-11.4,"d":-11.2,"w":-11.4},
{"h":3.0,"o":-11.5,"i":-11.4,"d":-11.2,"w":-11.4},{"h":3.05,"o":-11.5,"i":-11.6,"d":-11.6,"w":-11.6},{"h":3.1,"o":-12.1,"i":-12.0,"d":-12.0,"w":-12.0},{"h":3.15,"o":-12.5,"i":-12.6,"d":-12.6,"w":-12.6},{"h":3.2,"o":-13.4,"i":-13.3,"d":-13.3,"w":-13.3},{"h":3.25,"o":-13.9,"i":-14.0,"d":-14.0,"w":-14.0},{"h":3.3,"o":-14.7,"i":-14.6,"d":-14.6,"w":-14.6},{"h":3.35,"o":-15.0,"i":-15.1,"d":-15.1,"w":-15.1},{"h":3.4,"o":-15.5,"i":-15.4,"d":-15.4,"w":-15.4},{"h":3.45,"o":-15.9,"i":-15.8,"d":-15.6,"w":-15.6},
{"h":3.5,"o":-15.4,"i":-15.8,"d":-15.8,"w":-15.8},{"h":3.55,"o":-16.2,"i":-16.1,"d":-16.1,"w":-16.1},{"h":3.6,"o":-16.4,"i":-16.5,"d":-16.5,"w":-16.5},{"h":3.65,"o":-17.0,"i":-16.9,"d":-16.9,"w":-16.9},{"h":3.7,"o":-17.2,"i":-17.3,"d":-17.3,"w":-17.3},{"h":3.75,"o":-17.9,"i":-17.7,"d":-17.7,"w":-17.7},{"h":3.8,"o":-18.0,"i":-18.1,"d":-18.1,"w":-18.1},{"h":3.85,"o":-18.2,"i":-18.5,"d":-18.5,"w":-18.5},{"h":3.9,"o":-18.7,"i":-19.0,"d":-19.0,"w":-19.0},{"h":3.95,"o":-19.4,"i":-19.5,"d":-19.5,"w":-19.5},
{"h":4.0,"o":-20.2,"i":-20.0,"d":-20.0,"w":-20.0},{"h":4.05,"o":-20.4,"i":-20.5,"d":-20.5,"w":-20.5},{"h":4.1,"o":-21.2,"i":-21.0,"d":-21.0,"w":-21.0},{"h":4.15,"o":-21.3,"i":-21.4,"d":-21.4,"w":-21.4},{"h":4.2,"o":-22.0,"i":-21.8,"d":-21.6,"w":-21.8},{"h":4.25,"o":-22.1,"i":-22.2,"d":-22.2,"w":-22.2},{"h":4.3,"o":-22.7,"i":-22.5,"d":-22.5,"w":-22.5},{"h":4.35,"o":-22.6,"i":-22.8,"d":-22.8,"w":-22.8},{"h":4.4,"o":-23.3,"i":-23.1,"d":-23.1,"w":-23.1},{"h":4.45,"o":-23.2,"i":-23.4,"d":-23.4,"w":-23.4},{"h":4.5,"o":-23.9,"i":-23.7,"d":-23.7,"w":-23.7}
]
},
"concat":[
{"width":178,"height":166,"data":{"name":"a"},
"title":{"text":"(a)","anchor":"start","frame":"group","orient":"top","offset":-14,"baseline":"top","dx":-30,"dy":-3,"font":"Liberation Serif","fontWeight":"bold","fontSize":10,"color":"#000"},
"encoding":{"y":{"field":"h","type":"quantitative","scale":{"domain":[0.5,4.5],"nice":false,"zero":false},"axis":{"title":"Height/(km)","values":[0.5,1,1.5,2,2.5,3,3.5,4,4.5],"labelExpr":"datum.value+''"}},
"x":{"field":"v","type":"quantitative","scale":{"type":"log","domain":[0.01,15.5],"nice":false},"axis":{"title":"P₃₅₅/(mW)","values":[0.01,0.02,0.03,0.04,0.05,0.06,0.07,0.08,0.09,0.1,0.2,0.3,0.4,0.5,0.6,0.7,0.8,0.9,1,2,3,4,5,6,7,8,9,10],"labelExpr":"datum.value==0.01?'10⁻²':datum.value==0.1?'10⁻¹':datum.value==1?'10⁰':datum.value==10?'10¹':''"}}},
"layer":[
{"transform":[{"fold":["o"],"as":["s","v"]}],"mark":{"type":"square","size":3.5,"color":"#000","opacity":1,"clip":true}},
{"transform":[{"fold":["i","d","w"],"as":["s","v"]}],"mark":{"type":"line","strokeWidth":1.3,"clip":true},
"encoding":{"order":{"field":"h","type":"quantitative"},
"color":{"field":"s","type":"nominal","scale":{"domain":["o","i","d","w"],"range":["#000000","#4AA3E3","#35B34A","#D43F32"]},"legend":{"title":null,"legendX":107,"legendY":7,"labelExpr":"datum.label=='o'?'Original signal':datum.label=='i'?'VMD-IT':datum.label=='d'?'VMD-DT':'VMD-WT'"}},
"strokeDash":{"field":"s","type":"nominal","scale":{"domain":["o","i","d","w"],"range":[[0,9,2,100],[4,1.5,1.5,1.5],[5,3],[1,0]]},"legend":{"title":null,"legendX":107,"legendY":7,"labelExpr":"datum.label=='o'?'Original signal':datum.label=='i'?'VMD-IT':datum.label=='d'?'VMD-DT':'VMD-WT'"}}}}
]},
{"width":178,"height":166,"data":{"name":"b"},
"title":{"text":"(b)","anchor":"start","frame":"group","orient":"top","offset":-14,"baseline":"top","dx":-32,"dy":-3,"font":"Liberation Serif","fontWeight":"bold","fontSize":10,"color":"#000"},
"encoding":{"y":{"field":"h","type":"quantitative","scale":{"domain":[0.5,4.5],"nice":false,"zero":false},"axis":{"title":"Height/(km)","values":[0.5,1,1.5,2,2.5,3,3.5,4,4.5],"labelExpr":"datum.value+''"}},
"x":{"field":"v","type":"quantitative","scale":{"domain":[0,0.02],"nice":false},"axis":{"title":"P₄₀₇/P₃₈₇/(a. u.)","values":[0,0.005,0.01,0.015,0.02],"labelExpr":"datum.value+''"}}},
"layer":[
{"data":{"name":"bp"},"mark":{"type":"square","size":3.5,"color":"#000","opacity":1,"clip":true}},
{"transform":[{"fold":["i","d","w"],"as":["s","v"]}],"mark":{"type":"line","strokeWidth":1.3,"clip":true},
"encoding":{"order":{"field":"h","type":"quantitative"},
"color":{"field":"s","type":"nominal","scale":{"domain":["o","i","d","w"],"range":["#000000","#4AA3E3","#35B34A","#D43F32"]},"legend":{"title":null,"legendX":109,"legendY":67,"rowPadding":3.5,"labelExpr":"datum.label=='o'?'Original signal':datum.label=='i'?'VMD-IT':datum.label=='d'?'VMD-DT':'VMD-WT'"}},
"strokeDash":{"field":"s","type":"nominal","scale":{"domain":["o","i","d","w"],"range":[[0,9,2,100],[4,1.5,1.5,1.5],[5,3],[1,0]]},"legend":{"title":null,"legendX":109,"legendY":67,"rowPadding":3.5,"labelExpr":"datum.label=='o'?'Original signal':datum.label=='i'?'VMD-IT':datum.label=='d'?'VMD-DT':'VMD-WT'"}}}}
]},
{"width":178,"height":166,"data":{"name":"c"},
"title":{"text":"(c)","anchor":"start","frame":"group","orient":"top","offset":-14,"baseline":"top","dx":-30,"dy":-3,"font":"Liberation Serif","fontWeight":"bold","fontSize":10,"color":"#000"},
"encoding":{"y":{"field":"h","type":"quantitative","scale":{"domain":[0.5,4.5],"nice":false,"zero":false},"axis":{"title":"Height/(km)","values":[0.5,1,1.5,2,2.5,3,3.5,4,4.5],"labelExpr":"datum.value+''"}},
"x":{"field":"v","type":"quantitative","scale":{"domain":[1.5,3.5],"nice":false,"zero":false},"axis":{"title":"P₃₅₄/P₃₅₃/(a. u.)","values":[1.5,2,2.5,3,3.5],"labelExpr":"datum.value+''"}}},
"layer":[
{"data":{"name":"cp"},"mark":{"type":"square","size":3.5,"color":"#000","opacity":1,"clip":true}},
{"transform":[{"fold":["i","d","w"],"as":["s","v"]}],"mark":{"type":"line","strokeWidth":1.3,"clip":true},
"encoding":{"order":{"field":"h","type":"quantitative"},
"color":{"field":"s","type":"nominal","scale":{"domain":["o","i","d","w"],"range":["#000000","#4AA3E3","#35B34A","#D43F32"]},"legend":{"title":null,"legendX":17,"legendY":7,"labelExpr":"datum.label=='o'?'Original signal':datum.label=='i'?'VMD-IT':datum.label=='d'?'VMD-DT':'VMD-WT'"}},
"strokeDash":{"field":"s","type":"nominal","scale":{"domain":["o","i","d","w"],"range":[[0,9,2,100],[4,1.5,1.5,1.5],[5,3],[1,0]]},"legend":{"title":null,"legendX":17,"legendY":7,"labelExpr":"datum.label=='o'?'Original signal':datum.label=='i'?'VMD-IT':datum.label=='d'?'VMD-DT':'VMD-WT'"}}}}
]},
{"width":178,"height":166,"data":{"name":"d"},
"title":{"text":"(d)","anchor":"start","frame":"group","orient":"top","offset":-14,"baseline":"top","dx":-30,"dy":-4,"font":"Liberation Serif","fontWeight":"bold","fontSize":10,"color":"#000"},
"encoding":{"y":{"field":"h","type":"quantitative","scale":{"domain":[0.5,4.5],"nice":false,"zero":false},"axis":{"title":"Height/(km)","values":[0.5,1,1.5,2,2.5,3,3.5,4,4.5],"labelExpr":"datum.value+''"}},
"x":{"field":"v","type":"quantitative","scale":{"domain":[0,0.15],"nice":false},"axis":{"title":"Aerosol extinction/(km⁻¹)","values":[0,0.05,0.1,0.15],"labelExpr":"datum.value+''"}}},
"layer":[
{"transform":[{"fold":["o"],"as":["s","v"]}],"mark":{"type":"square","size":3.5,"color":"#000","opacity":1,"clip":true}},
{"transform":[{"fold":["i","d","w"],"as":["s","v"]}],"mark":{"type":"line","strokeWidth":1.3,"clip":true},
"encoding":{"order":{"field":"h","type":"quantitative"},
"color":{"field":"s","type":"nominal","scale":{"domain":["o","i","d","w"],"range":["#000000","#4AA3E3","#35B34A","#D43F32"]},"legend":{"title":null,"legendX":107,"legendY":6,"labelExpr":"datum.label=='o'?'Original signal':datum.label=='i'?'VMD-IT':datum.label=='d'?'VMD-DT':'VMD-WT'"}},
"strokeDash":{"field":"s","type":"nominal","scale":{"domain":["o","i","d","w"],"range":[[0,9,2,100],[4,1.5,1.5,1.5],[5,3],[1,0]]},"legend":{"title":null,"legendX":107,"legendY":6,"labelExpr":"datum.label=='o'?'Original signal':datum.label=='i'?'VMD-IT':datum.label=='d'?'VMD-DT':'VMD-WT'"}}}}
]},
{"width":178,"height":166,"data":{"name":"e"},
"title":{"text":"(e)","anchor":"start","frame":"group","orient":"top","offset":-14,"baseline":"top","dx":-32,"dy":-4,"font":"Liberation Serif","fontWeight":"bold","fontSize":10,"color":"#000"},
"encoding":{"y":{"field":"h","type":"quantitative","scale":{"domain":[0.5,4.5],"nice":false,"zero":false},"axis":{"title":"Height/(km)","values":[0.5,1,1.5,2,2.5,3,3.5,4,4.5],"labelExpr":"datum.value+''"}},
"x":{"field":"v","type":"quantitative","scale":{"domain":[0,80],"nice":false},"axis":{"title":"Relative humidity/(%)","values":[0,20,40,60,80],"labelExpr":"datum.value+''"}}},
"layer":[
{"transform":[{"fold":["o"],"as":["s","v"]}],"mark":{"type":"square","size":3.5,"color":"#000","opacity":1,"clip":true}},
{"transform":[{"fold":["i","d","w"],"as":["s","v"]}],"mark":{"type":"line","strokeWidth":1.3,"clip":true},
"encoding":{"order":{"field":"h","type":"quantitative"},
"color":{"field":"s","type":"nominal","scale":{"domain":["o","i","d","w"],"range":["#000000","#4AA3E3","#35B34A","#D43F32"]},"legend":{"title":null,"legendX":108,"legendY":6,"labelExpr":"datum.label=='o'?'Original signal':datum.label=='i'?'VMD-IT':datum.label=='d'?'VMD-DT':'VMD-WT'"}},
"strokeDash":{"field":"s","type":"nominal","scale":{"domain":["o","i","d","w"],"range":[[0,9,2,100],[4,1.5,1.5,1.5],[5,3],[1,0]]},"legend":{"title":null,"legendX":108,"legendY":6,"labelExpr":"datum.label=='o'?'Original signal':datum.label=='i'?'VMD-IT':datum.label=='d'?'VMD-DT':'VMD-WT'"}}}}
]},
{"width":178,"height":166,"data":{"name":"f"},
"title":{"text":"(f)","anchor":"start","frame":"group","orient":"top","offset":-14,"baseline":"top","dx":-30,"dy":-4,"font":"Liberation Serif","fontWeight":"bold","fontSize":10,"color":"#000"},
"encoding":{"y":{"field":"h","type":"quantitative","scale":{"domain":[0.5,4.5],"nice":false,"zero":false},"axis":{"title":"Height/(km)","values":[0.5,1,1.5,2,2.5,3,3.5,4,4.5],"labelExpr":"datum.value+''"}},
"x":{"field":"v","type":"quantitative","scale":{"domain":[-25,10],"nice":false,"zero":false},"axis":{"title":"Temperature/(° C)","values":[-25,-20,-15,-10,-5,0,5,10],"labelExpr":"datum.value+''"}}},
"layer":[
{"transform":[{"fold":["o"],"as":["s","v"]}],"mark":{"type":"square","size":3.5,"color":"#000","opacity":1,"clip":true}},
{"transform":[{"fold":["i","d","w"],"as":["s","v"]}],"mark":{"type":"line","strokeWidth":1.3,"clip":true},
"encoding":{"order":{"field":"h","type":"quantitative"},
"color":{"field":"s","type":"nominal","scale":{"domain":["o","i","d","w"],"range":["#000000","#4AA3E3","#35B34A","#D43F32"]},"legend":{"title":null,"legendX":111,"legendY":6,"labelExpr":"datum.label=='o'?'Original signal':datum.label=='i'?'VMD-IT':datum.label=='d'?'VMD-DT':'VMD-WT'"}},
"strokeDash":{"field":"s","type":"nominal","scale":{"domain":["o","i","d","w"],"range":[[0,9,2,100],[4,1.5,1.5,1.5],[5,3],[1,0]]},"legend":{"title":null,"legendX":111,"legendY":6,"labelExpr":"datum.label=='o'?'Original signal':datum.label=='i'?'VMD-IT':datum.label=='d'?'VMD-DT':'VMD-WT'"}}}}
]}
]
}
